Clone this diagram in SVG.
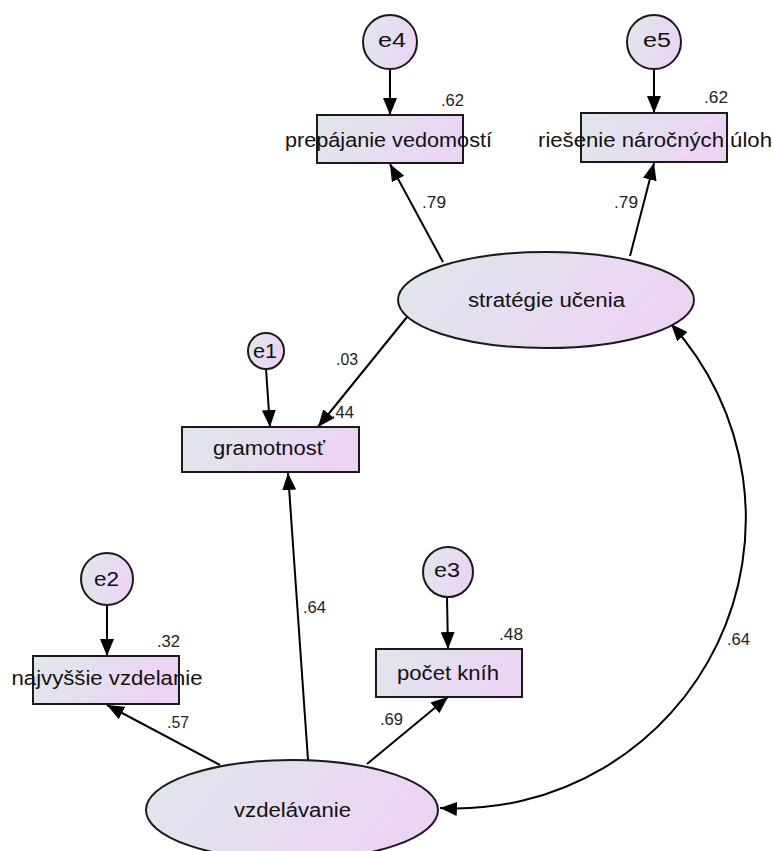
<svg xmlns="http://www.w3.org/2000/svg" width="773" height="851" viewBox="0 0 773 851">
<defs>
<linearGradient id="g" x1="0" y1="0" x2="1" y2="0.25">
<stop offset="0" stop-color="#e0e7ec"/>
<stop offset="1" stop-color="#ecd4f3"/>
</linearGradient>
<marker id="ah" markerUnits="userSpaceOnUse" markerWidth="18" markerHeight="14" refX="17" refY="7" orient="auto-start-reverse">
<path d="M0,0 L17,7 L0,14 z" fill="#000"/>
</marker>
<style>
.n{fill:url(#g);stroke:#1a1a1a;stroke-width:2}
.c{fill:none;stroke:#000;stroke-width:2;marker-end:url(#ah)}
.t{font-family:"Liberation Sans",Arial,sans-serif;font-size:20px;fill:#111;text-anchor:middle}
.v{font-family:"Liberation Sans",Arial,sans-serif;font-size:16px;fill:#222;text-anchor:end}
</style>
</defs>
<rect width="773" height="851" fill="#fff"/>
<g id="connectors">
<path class="c" d="M390,69 L390,115"/>
<path class="c" d="M654,69 L654,113"/>
<path class="c" d="M443,262 L390,164"/>
<path class="c" d="M630,256 L654,163"/>
<path class="c" d="M407,317 L318,427"/>
<path class="c" d="M266,369 L270,427"/>
<path class="c" d="M308,760 L288,473"/>
<path class="c" d="M220,765 L107,705"/>
<path class="c" d="M367,764 L448,697"/>
<path class="c" d="M107,605 L107,656"/>
<path class="c" d="M447,598 L448,649"/>
<path class="c" style="marker-start:url(#ah)" d="M671,324 A290,290 0 0 1 440,808"/>
<text class="v" x="464" y="106" textLength="23" lengthAdjust="spacingAndGlyphs">.62</text>
<text class="v" x="728" y="103" textLength="24" lengthAdjust="spacingAndGlyphs">.62</text>
<text class="v" x="446" y="208" textLength="24" lengthAdjust="spacingAndGlyphs">.79</text>
<text class="v" x="638" y="208" textLength="24" lengthAdjust="spacingAndGlyphs">.79</text>
<text class="v" x="358" y="365" textLength="22" lengthAdjust="spacingAndGlyphs">.03</text>
<text class="v" x="354" y="418" textLength="23" lengthAdjust="spacingAndGlyphs">.44</text>
<text class="v" x="326" y="613" textLength="23" lengthAdjust="spacingAndGlyphs">.64</text>
<text class="v" x="180" y="647" textLength="23" lengthAdjust="spacingAndGlyphs">.32</text>
<text class="v" x="189" y="728" textLength="22" lengthAdjust="spacingAndGlyphs">.57</text>
<text class="v" x="403" y="725" textLength="23" lengthAdjust="spacingAndGlyphs">.69</text>
<text class="v" x="523" y="640" textLength="24" lengthAdjust="spacingAndGlyphs">.48</text>
<text class="v" x="750" y="645" textLength="23" lengthAdjust="spacingAndGlyphs">.64</text>
</g>
<g id="e4"><circle class="n" cx="390" cy="42" r="27"/><text class="t" x="392" y="47" textLength="28" lengthAdjust="spacingAndGlyphs">e4</text></g>
<g id="e5"><circle class="n" cx="654" cy="42" r="27"/><text class="t" x="657" y="47" textLength="28" lengthAdjust="spacingAndGlyphs">e5</text></g>
<g id="e1"><circle class="n" cx="266" cy="351" r="18"/><text class="t" x="265" y="358" textLength="24" lengthAdjust="spacingAndGlyphs">e1</text></g>
<g id="e2"><circle class="n" cx="107" cy="579" r="26"/><text class="t" x="106.5" y="586" textLength="25" lengthAdjust="spacingAndGlyphs">e2</text></g>
<g id="e3"><circle class="n" cx="448" cy="572" r="25"/><text class="t" x="447" y="577" textLength="26" lengthAdjust="spacingAndGlyphs">e3</text></g>
<g id="prepajanie"><rect class="n" x="317" y="115" width="146" height="48"/><text class="t" x="388.5" y="147" textLength="207" lengthAdjust="spacingAndGlyphs">prepájanie vedomostí</text></g>
<g id="riesenie"><rect class="n" x="581" y="113" width="146" height="49"/><text class="t" x="655" y="147" textLength="234" lengthAdjust="spacingAndGlyphs">riešenie náročných úloh</text></g>
<g id="strategie"><ellipse class="n" cx="546" cy="300" rx="148" ry="48"/><text class="t" x="546.5" y="307" textLength="157" lengthAdjust="spacingAndGlyphs">stratégie učenia</text></g>
<g id="gramotnost"><rect class="n" x="182" y="427" width="177" height="45"/><text class="t" x="269" y="455" textLength="112" lengthAdjust="spacingAndGlyphs">gramotnosť</text></g>
<g id="najvyssie"><rect class="n" x="33" y="656" width="146" height="48"/><text class="t" x="107" y="685" textLength="191" lengthAdjust="spacingAndGlyphs">najvyššie vzdelanie</text></g>
<g id="pocet"><rect class="n" x="376" y="649" width="146" height="48"/><text class="t" x="448" y="680" textLength="102" lengthAdjust="spacingAndGlyphs">počet kníh</text></g>
<g id="vzdelavanie"><ellipse class="n" cx="292" cy="810" rx="146" ry="50"/><text class="t" x="292.5" y="817" textLength="117" lengthAdjust="spacingAndGlyphs">vzdelávanie</text></g>
</svg>
